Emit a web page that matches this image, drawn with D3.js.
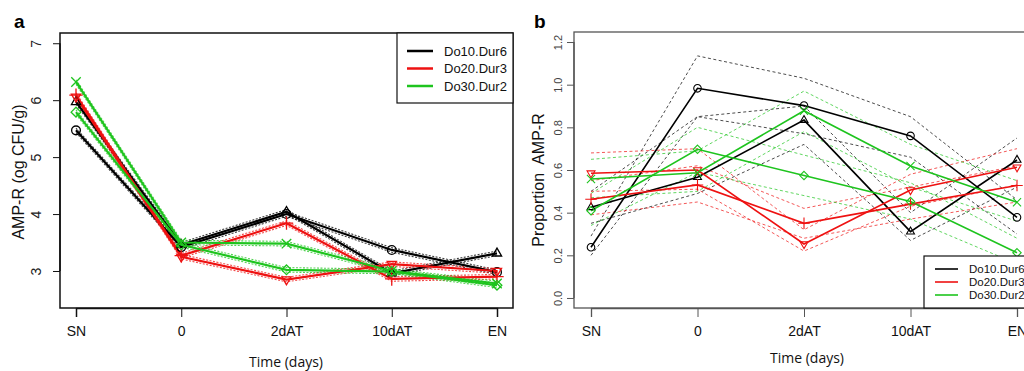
<!DOCTYPE html>
<html><head><meta charset="utf-8">
<script src="https://cdn.jsdelivr.net/npm/d3@7"></script>
<style>
html,body{margin:0;padding:0;background:#fff;overflow:hidden}
text{font-family:"Liberation Sans",Arial,sans-serif}
</style></head>
<body>
<svg id="c" width="1024" height="371"></svg>
<script>
// ---------- data ----------
const categories = ["SN","0","2dAT","10dAT","EN"];
const legendNames = ["Do10.Dur6","Do20.Dur3","Do30.Dur2"];
const colors = ["#000000","#ee1111","#1ec41e"];

// Panel a: AMP-R (log CFU/g)
const aD10circ = [5.47, 3.42, 4.00, 3.37, 2.98];
const aD10circUp = [5.51, 3.46, 4.04, 3.41, 3.02];
const aD10circLo = [5.43, 3.38, 3.96, 3.33, 2.94];
const aD10tri = [5.97, 3.46, 4.04, 2.96, 3.31];
const aD10triUp = [6.01, 3.50, 4.08, 3.00, 3.35];
const aD10triLo = [5.93, 3.42, 4.00, 2.92, 3.27];
const aD20plus = [6.09, 3.27, 3.84, 2.86, 2.90];
const aD20plusUp = [6.13, 3.31, 3.88, 2.90, 2.94];
const aD20plusLo = [6.05, 3.23, 3.80, 2.82, 2.86];
const aD20inv = [6.06, 3.25, 2.85, 3.12, 3.00];
const aD20invUp = [6.10, 3.29, 2.89, 3.16, 3.04];
const aD20invLo = [6.02, 3.21, 2.81, 3.08, 2.96];
const aD30x = [6.32, 3.50, 3.48, 3.00, 2.78];
const aD30xUp = [6.36, 3.54, 3.52, 3.04, 2.82];
const aD30xLo = [6.28, 3.46, 3.44, 2.96, 2.74];
const aD30diam = [5.79, 3.46, 3.02, 2.99, 2.75];
const aD30diamUp = [5.83, 3.50, 3.06, 3.03, 2.79];
const aD30diamLo = [5.75, 3.42, 2.98, 2.95, 2.71];
const aTicks = [3, 4, 5, 6, 7];

// Panel b: proportion AMP-R
const bD10circ = [0.238, 0.983, 0.902, 0.760, 0.378];
const bD10circUp = [0.29, 1.135, 1.03, 0.85, 0.46];
const bD10circLo = [0.20, 0.85, 0.77, 0.66, 0.30];
const bD10tri = [0.425, 0.566, 0.834, 0.311, 0.647];
const bD10triUp = [0.50, 0.85, 0.90, 0.40, 0.75];
const bD10triLo = [0.35, 0.49, 0.72, 0.27, 0.52];
const bD20inv = [0.585, 0.600, 0.253, 0.506, 0.613];
const bD20invUp = [0.68, 0.70, 0.32, 0.58, 0.70];
const bD20invLo = [0.50, 0.51, 0.22, 0.43, 0.53];
const bD20plus = [0.463, 0.530, 0.350, 0.440, 0.527];
const bD20plusUp = [0.55, 0.62, 0.42, 0.52, 0.62];
const bD20plusLo = [0.39, 0.45, 0.28, 0.37, 0.45];
const bD30x = [0.558, 0.587, 0.878, 0.619, 0.449];
const bD30xUp = [0.65, 0.69, 0.97, 0.72, 0.55];
const bD30xLo = [0.47, 0.50, 0.78, 0.52, 0.36];
const bD30diam = [0.409, 0.697, 0.574, 0.452, 0.212];
const bD30diamUp = [0.49, 0.80, 0.67, 0.54, 0.28];
const bD30diamLo = [0.34, 0.59, 0.48, 0.37, 0.16];
const bTicks = [0.0, 0.2, 0.4, 0.6, 0.8, 1.0, 1.2];

const panelA = [
  {c:0, shape:"circle", v:aD10circ, up:aD10circUp, lo:aD10circLo},
  {c:0, shape:"tri", v:aD10tri, up:aD10triUp, lo:aD10triLo},
  {c:1, shape:"plus", v:aD20plus, up:aD20plusUp, lo:aD20plusLo},
  {c:1, shape:"inv", v:aD20inv, up:aD20invUp, lo:aD20invLo},
  {c:2, shape:"x", v:aD30x, up:aD30xUp, lo:aD30xLo},
  {c:2, shape:"diam", v:aD30diam, up:aD30diamUp, lo:aD30diamLo}
];
const panelB = [
  {c:0, shape:"circle", v:bD10circ, up:bD10circUp, lo:bD10circLo},
  {c:0, shape:"tri", v:bD10tri, up:bD10triUp, lo:bD10triLo},
  {c:1, shape:"inv", v:bD20inv, up:bD20invUp, lo:bD20invLo},
  {c:1, shape:"plus", v:bD20plus, up:bD20plusUp, lo:bD20plusLo},
  {c:2, shape:"x", v:bD30x, up:bD30xUp, lo:bD30xLo},
  {c:2, shape:"diam", v:bD30diam, up:bD30diamUp, lo:bD30diamLo}
];

const svg = d3.select("#c");

function symPath(shape, s){
  const map = {circle:d3.symbolCircle, tri:d3.symbolTriangle2, inv:d3.symbolTriangle2,
               plus:d3.symbolPlus, x:d3.symbolTimes, diam:d3.symbolDiamond2};
  return d3.symbol().type(map[shape]).size(s)();
}

function drawPanel(cfg){
  const g = svg.append("g");
  const x = d3.scalePoint().domain(categories).range(cfg.xr);
  const y = d3.scaleLinear().domain(cfg.yd).range([cfg.bottom, cfg.top]);
  // box
  g.append("rect").attr("x", cfg.left).attr("y", cfg.top)
    .attr("width", cfg.right - cfg.left).attr("height", cfg.bottom - cfg.top)
    .attr("fill","none").attr("stroke", cfg.boxColor).attr("stroke-width", cfg.boxW);
  // y axis
  const ya = g.append("g").attr("transform",`translate(${cfg.left},0)`)
    .call(d3.axisLeft(y).tickValues(cfg.ticks).tickSize(7).tickFormat(cfg.fmt));
  ya.select(".domain").attr("stroke", cfg.boxColor).attr("stroke-width", cfg.boxW)
    .attr("d", `M0,${y(cfg.ticks[0])}V${y(cfg.ticks[cfg.ticks.length-1])}`);
  ya.selectAll(".tick line").attr("stroke", cfg.boxColor);
  ya.selectAll(".tick text").attr("x",0).attr("y",-cfg.tlOff).attr("dy",0)
    .attr("text-anchor","middle").attr("transform","rotate(-90)")
    .attr("font-size", cfg.ytfs).attr("fill", cfg.tickTextColor)
    .style("font-family",'"Liberation Sans",Arial,sans-serif');
  // x axis
  const xa = g.append("g").attr("transform",`translate(0,${cfg.bottom})`)
    .call(d3.axisBottom(x).tickSize(9).tickPadding(9));
  xa.select(".domain").attr("stroke", cfg.boxColor).attr("stroke-width", cfg.boxW);
  xa.selectAll(".tick line").attr("stroke", cfg.boxColor);
  xa.selectAll(".tick text").attr("font-size", 14).attr("fill","#111")
    .style("font-family",'"Liberation Sans Narrow","Liberation Sans",Arial,sans-serif');
  // titles
  g.append("text").attr("x", cfg.xTitleX).attr("y", cfg.xTitleY).attr("text-anchor","middle")
    .attr("font-size", 14).style("font-family",'"Open Sans","DejaVu Sans",sans-serif')
    .attr("fill","#111").text("Time (days)");
  g.append("text").attr("transform",`translate(${cfg.yTitleX},${cfg.yTitleY}) rotate(-90)`)
    .attr("text-anchor","middle").attr("font-size",cfg.ytitleFs).attr("fill","#111")
    .style("white-space","pre").text(cfg.yTitle);
  g.append("text").attr("x", cfg.letterX).attr("y", 28).attr("font-size", 19)
    .attr("font-weight","bold").text(cfg.letter);

  const line = d3.line().x((d,i)=>x(categories[i])).y(d=>y(d));
  const clip = g.append("g");
  // dashed bands
  cfg.series.forEach(s=>{
    [s.up, s.lo].forEach(arr=>{
      clip.append("path").attr("d", line(arr)).attr("fill","none")
        .attr("stroke", colors[s.c]).attr("stroke-opacity", cfg.bandOp)
        .attr("stroke-width", cfg.bandW).attr("stroke-dasharray", cfg.dash);
    });
  });
  cfg.series.forEach(s=>{
    clip.append("path").attr("d", line(s.v)).attr("fill","none")
      .attr("stroke", colors[s.c]).attr("stroke-width", cfg.lineW);
  });
  cfg.series.forEach(s=>{
    clip.selectAll(null).data(s.v).enter().append("path")
      .attr("d", symPath(s.shape, cfg.symS))
      .attr("transform",(d,i)=>`translate(${x(categories[i])},${y(d)})${s.shape==="inv"?" rotate(180)":""}`)
      .attr("fill","none").attr("stroke", colors[s.c]).attr("stroke-width", cfg.symW);
  });
  // legend
  const L = cfg.legend;
  g.append("rect").attr("x", L.x).attr("y", L.y).attr("width", L.w).attr("height", L.h)
    .attr("fill","#fff").attr("stroke","#111").attr("stroke-width",1.2);
  legendNames.forEach((n,i)=>{
    const yy = L.row0 + i*L.dy;
    g.append("line").attr("x1", L.lx1).attr("x2", L.lx2).attr("y1", yy).attr("y2", yy)
      .attr("stroke", colors[i]).attr("stroke-width", L.lw);
    g.append("text").attr("x", L.tx).attr("y", yy).attr("dy","0.35em")
      .attr("font-size", L.fs).attr("fill","#111").text(n);
  });
}

drawPanel({
  left:60, right:513, top:33, bottom:308, xr:[76,497], yd:[2.35,7.18], ticks:aTicks,
  fmt:d3.format("d"), tlOff:19, ytfs:14, tickTextColor:"#222", boxColor:"#111", boxW:1.5,
  xTitleX:286, xTitleY:367, yTitleX:24, yTitleY:172, yTitle:"AMP-R (og CFU/g)", ytitleFs:16,
  letter:"a", letterX:14, series:panelA, lineW:2.2, bandW:1.1, bandOp:0.75, dash:"2,1.5",
  symS:60, symW:1.3,
  legend:{x:397, y:33, w:116, h:70, row0:51, dy:17.5, lx1:407, lx2:433, lw:2.5, tx:444, fs:13}
});
drawPanel({
  left:574, right:1030, top:32, bottom:308, xr:[591,1017], yd:[-0.047,1.247], ticks:bTicks,
  fmt:d3.format(".1f"), tlOff:12, ytfs:11, tickTextColor:"#444", boxColor:"#555", boxW:1.3,
  xTitleX:807, xTitleY:363, yTitleX:544, yTitleY:180, yTitle:"Proportion  AMP-R", ytitleFs:16,
  letter:"b", letterX:534, series:panelB, lineW:1.6, bandW:1, bandOp:0.7, dash:"3,2.5",
  symS:45, symW:1.1,
  legend:{x:924, y:256, w:110, h:52, row0:269, dy:13, lx1:935, lx2:958, lw:1.6, tx:969, fs:11.5}
});
</script>
</body></html>
